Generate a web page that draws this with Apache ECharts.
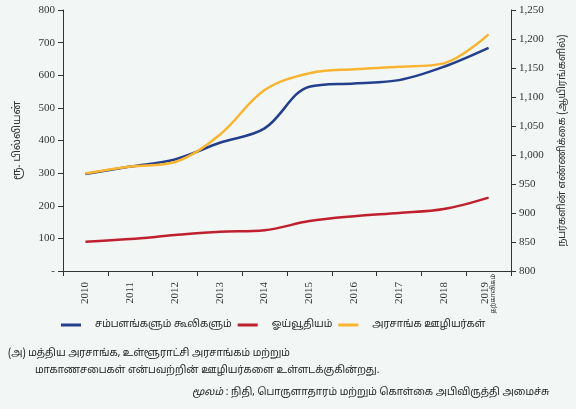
<!DOCTYPE html>
<html><head><meta charset="utf-8">
<script src="https://cdn.jsdelivr.net/npm/echarts@6/dist/echarts.min.js"></script>
<style>html,body{margin:0;padding:0;background:#f2f6f5}#c{width:576px;height:409px}</style>
</head><body><div id="c"></div>
<script>
const years = ['2010','2011','2012','2013','2014','2015','2016','2017','2018','2019'];
const salaries = [297, 320, 342, 393, 437, 565, 575, 585, 626, 684];
const pensions = [90, 98, 110, 120, 125, 153, 168, 178, 190, 225];
const employees = [968, 980, 988, 1035, 1112, 1141, 1148, 1152, 1158, 1208];
const leftTicks = [0, 800, 100];
const rightTicks = [800, 1250, 50];
const seriesNames = ['சம்பளங்களும் கூலிகளும்', 'ஓய்வூதியம்', 'அரசாங்க ஊழியர்கள்'];
const provisional = 'தற்காலிகம்';

const serif = 'Liberation Serif';
const tamil = 'Noto Sans Tamil, Noto Sans, sans-serif';
const chart = echarts.init(document.getElementById('c'));
chart.setOption({
  backgroundColor: '#f2f6f5',
  animation: false,
  grid: {left: 63, right: 64, top: 10, bottom: 138},
  legend: {
    bottom: 74, left: 56, itemWidth: 20, itemHeight: 3, itemGap: 6,
    icon: 'rect',
    textStyle: {fontFamily: tamil, fontSize: 10, color: '#222', padding: [0, 6, 0, 9]},
    data: seriesNames
  },
  xAxis: {
    type: 'category', data: years, boundaryGap: true,
    axisLine: {lineStyle: {color: '#333'}},
    axisTick: {show: true, lineStyle: {color: '#333'}},
    axisLabel: {
      rotate: 90, color: '#333', margin: 3,
      formatter: v => v === years[years.length - 1] ? '{y|' + v + '}\n{p|' + provisional + '}' : '{y|' + v + '}',
      rich: {
        y: {fontSize: 11, fontFamily: serif, color: '#333', padding: [0, 8, 0, 0]},
        p: {fontSize: 6.5, fontFamily: tamil, color: '#333'}
      }
    }
  },
  yAxis: [{
    type: 'value', min: leftTicks[0], max: leftTicks[1], interval: leftTicks[2],
    name: 'ரூ. பில்லியன்', nameLocation: 'middle', nameGap: 40, nameRotate: 90,
    nameTextStyle: {fontFamily: tamil, fontSize: 11, color: '#333'},
    axisLine: {show: true, lineStyle: {color: '#333'}},
    axisTick: {show: true, lineStyle: {color: '#333'}},
    splitLine: {show: false},
    axisLabel: {fontFamily: serif, fontSize: 11, color: '#333', formatter: v => v === 0 ? '-' : v}
  }, {
    type: 'value', min: rightTicks[0], max: rightTicks[1], interval: rightTicks[2],
    name: 'நபர்களின் எண்ணிக்கை (ஆயிரங்களில்)', nameLocation: 'middle', nameGap: 47, nameRotate: 90,
    nameTextStyle: {fontFamily: tamil, fontSize: 10, color: '#333'},
    axisLine: {show: true, lineStyle: {color: '#333'}},
    axisTick: {show: true, lineStyle: {color: '#333'}},
    splitLine: {show: false},
    axisLabel: {fontFamily: serif, fontSize: 11, color: '#333', formatter: v => v.toLocaleString('en-US')}
  }],
  series: [
    {name: seriesNames[0], type: 'line', data: salaries, smooth: 0.35, showSymbol: false, lineStyle: {width: 2.5, color: '#233f8c'}, itemStyle: {color: '#233f8c'}},
    {name: seriesNames[1], type: 'line', data: pensions, smooth: 0.35, showSymbol: false, lineStyle: {width: 2.5, color: '#c0202e'}, itemStyle: {color: '#c0202e'}},
    {name: seriesNames[2], type: 'line', yAxisIndex: 1, data: employees, smooth: 0.35, showSymbol: false, lineStyle: {width: 2.5, color: '#fbb430'}, itemStyle: {color: '#fbb430'}}
  ],
  graphic: [
    {type: 'text', left: 8, top: 349, style: {text: '(அ) மத்திய அரசாங்க, உள்ளூராட்சி அரசாங்கம் மற்றும்', font: '10px ' + tamil, fill: '#222'}},
    {type: 'text', left: 35, top: 366, style: {text: 'மாகாணசபைகள் என்பவற்றின் ஊழியர்களை உள்ளடக்குகின்றது.', font: '10px ' + tamil, fill: '#222'}},
    {type: 'text', left: 192, top: 388, style: {text: '{i|மூலம்} : நிதி, பொருளாதாரம் மற்றும் கொள்கை அபிவிருத்தி அமைச்சு', font: '10px ' + tamil, fill: '#222', rich: {i: {fontStyle: 'italic', fontSize: 10, fontFamily: tamil}}}}
  ]
});
</script></body></html>
